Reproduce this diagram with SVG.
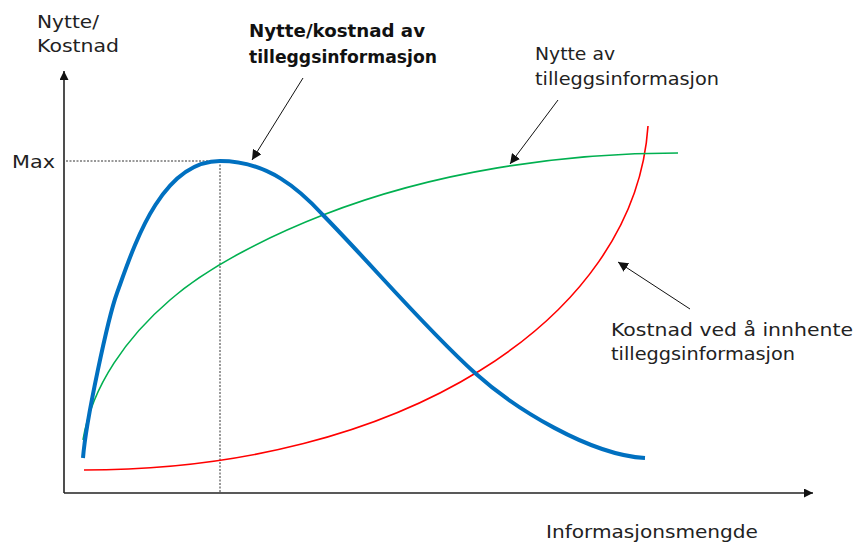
<svg xmlns="http://www.w3.org/2000/svg" width="856" height="544" viewBox="0 0 856 544">
<style>
text{font-family:"DejaVu Sans","Liberation Sans",sans-serif;font-size:18px;fill:#222}
.b{font-weight:bold;fill:#111}
.ax{stroke:#222;stroke-width:1.6;fill:none}
.dot{stroke:#333;stroke-width:1;stroke-dasharray:2 1.5;fill:none}
.ann{stroke:#111;stroke-width:1;fill:none}
</style>
<defs>
<marker id="ah" viewBox="0 0 10 10" refX="10" refY="5" markerWidth="10" markerHeight="10" markerUnits="userSpaceOnUse" orient="auto"><path d="M0,0L10,5L0,10z" fill="#111"/></marker>
<marker id="axh" viewBox="0 0 10 10" refX="10" refY="5" markerWidth="9" markerHeight="9" markerUnits="userSpaceOnUse" orient="auto"><path d="M0,0L10,5L0,10z" fill="#111"/></marker>
</defs>
<g id="axes">
<path class="ax" d="M64,493V71" marker-end="url(#axh)"/>
<path class="ax" d="M64,493H813" marker-end="url(#axh)"/>
<path class="dot" d="M66,161H220V493"/>
</g>
<g id="labels">
<text x="37" y="28" textLength="62" lengthAdjust="spacingAndGlyphs">Nytte/</text>
<text x="37" y="52" textLength="82" lengthAdjust="spacingAndGlyphs">Kostnad</text>
<text x="12" y="168" textLength="43" lengthAdjust="spacingAndGlyphs">Max</text>
<text x="546" y="538" textLength="212" lengthAdjust="spacingAndGlyphs">Informasjonsmengde</text>
</g>
<g id="curves">
<path id="kostnad" d="M84,470C400,470 635,320 648,126" fill="none" stroke="#ff0000" stroke-width="1.6"/>
<path id="nytte" d="M83,440C92,385 128,336 170,300C210,265 273,234.5 323,215C433,172 560,153 678,153" fill="none" stroke="#00b050" stroke-width="1.6"/>
<path id="nyttekostnad" d="M83,458C86,420 108,318 117,293C133,249 160,161 220,161C268,161 300,190 323,215C373,266 425,328 475,373C515,409 590,455 645,458" fill="none" stroke="#0070c0" stroke-width="4"/>
</g>
<g id="node-nyttekostnad">
<text class="b" x="249" y="37" textLength="176" lengthAdjust="spacingAndGlyphs">Nytte/kostnad av</text>
<text class="b" x="249" y="63" textLength="188" lengthAdjust="spacingAndGlyphs">tilleggsinformasjon</text>
</g>
<g id="node-nytte">
<text x="535" y="60" textLength="80" lengthAdjust="spacingAndGlyphs">Nytte av</text>
<text x="535" y="85" textLength="184" lengthAdjust="spacingAndGlyphs">tilleggsinformasjon</text>
</g>
<g id="node-kostnad">
<text x="611" y="336" textLength="242" lengthAdjust="spacingAndGlyphs">Kostnad ved å innhente</text>
<text x="611" y="360" textLength="184" lengthAdjust="spacingAndGlyphs">tilleggsinformasjon</text>
</g>
<g id="connectors">
<path class="ann" d="M303,78L252,160" marker-end="url(#ah)"/>
<path class="ann" d="M558,100L510,164" marker-end="url(#ah)"/>
<path class="ann" d="M690,309L618,262" marker-end="url(#ah)"/>
</g>
</svg>
